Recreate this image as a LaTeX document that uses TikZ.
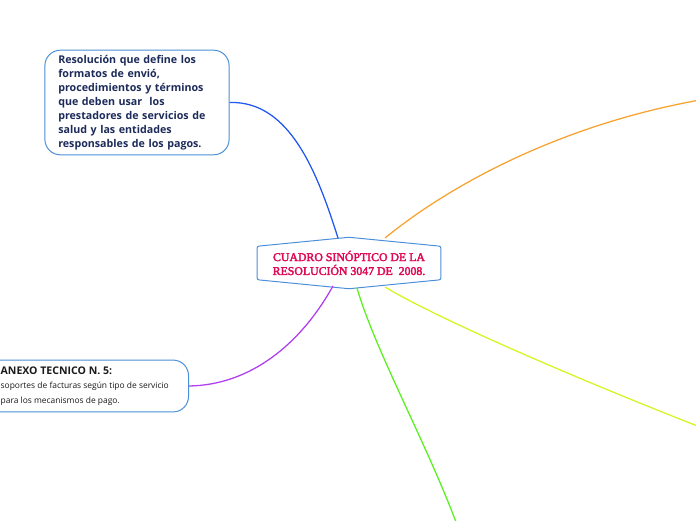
\documentclass[tikz,border=0pt]{standalone}
\usepackage{fontspec}
\setmainfont{Open Sans}[BoldFont={Open Sans Bold}]
\newfontfamily\headfont{Liberation Serif}[FakeBold=3]
\usetikzlibrary{positioning, calc}
\definecolor{Frame}{HTML}{4A8FD8}
\definecolor{Navy}{HTML}{1C2B5A}
\definecolor{Crimson}{HTML}{DF0A55}
\definecolor{Ink}{HTML}{1A1A1A}
\definecolor{BranchBlue}{HTML}{2257F0}
\definecolor{BranchOrange}{HTML}{F8A230}
\definecolor{BranchPurple}{HTML}{B03DF0}
\definecolor{BranchGreen}{HTML}{5AF020}
\definecolor{BranchLime}{HTML}{D6F520}
\tikzset{
  card/.style={draw=Frame, line width=0.7pt, rounded corners=11pt, fill=white, align=left},
  hexline/.style={draw=Frame, line width=0.7pt, rounded corners=1.5pt},
  branch/.style={line width=0.9pt}
}

\begin{document}
\begin{tikzpicture}[x=0.025cm, y=-0.025cm]
  \useasboundingbox (0,0) rectangle (696,520);
  % centre
  \node[minimum width=130.4pt, minimum height=23.4pt, inner sep=0pt, align=center,
        font=\headfont\fontsize{8.4}{9.9}\selectfont, text=Crimson] (root) at (349,263)
        {CUADRO SINÓPTICO DE LA\\RESOLUCIÓN 3047 DE\ \ 2008.};
  \draw[hexline] (root.north west) -- ($(root.north)+(0,6.4pt)$) -- (root.north east)
    -- (root.south east) -- ($(root.south)+(0,-6.4pt)$) -- (root.south west) -- cycle;
  % boxes
  \node[card, font=\bfseries\fontsize{7.6}{9.9}\selectfont, text=Navy, minimum width=130.4pt,
        minimum height=74.4pt, text width=112pt, inner xsep=9.5pt, inner ysep=2pt] (def) at (137,102.5)
        {Resolución que define los\\formatos de envió,\\procedimientos y términos\\que deben usar\ \ los\\prestadores de servicios de\\salud y las entidades\\responsables de los pagos.};
  \node[card, anchor=east, font=\fontsize{6}{10.4}\selectfont, text=Ink, minimum height=36.9pt,
        inner xsep=14pt, inner ysep=3pt] (annex) at (189,386)
        {{\bfseries\fontsize{7.5}{10}\selectfont ANEXO TECNICO N. 5:}\\soportes de facturas según tipo de servicio\\para los mecanismos de pago.};
  % open ends
  \coordinate (edgeNE) at (700,100);
  \coordinate (edgeSE) at (700,427);
  \coordinate (edgeS) at (456,522);
  % branches
  \draw[branch, BranchBlue] (def.east) .. controls +(61,-2) and +(-20,-63) .. ($(root)+(-11,-25)$);
  \draw[branch, BranchOrange] ($(root)+(36,-25)$) .. controls +(65,-53) and +(-140,25) .. (edgeNE);
  \draw[branch, BranchLime] ($(root)+(36,24)$) .. controls +(55,33) and +(-120,-47) .. (edgeSE);
  \draw[branch, BranchGreen] ($(root)+(8,25)$) .. controls +(18,62) and +(-31,-82) .. (edgeS);
  \draw[branch, BranchPurple] ($(root)+(-16,23)$) .. controls +(-33,59) and +(61,-1) .. (annex.east);
\end{tikzpicture}
\end{document}
